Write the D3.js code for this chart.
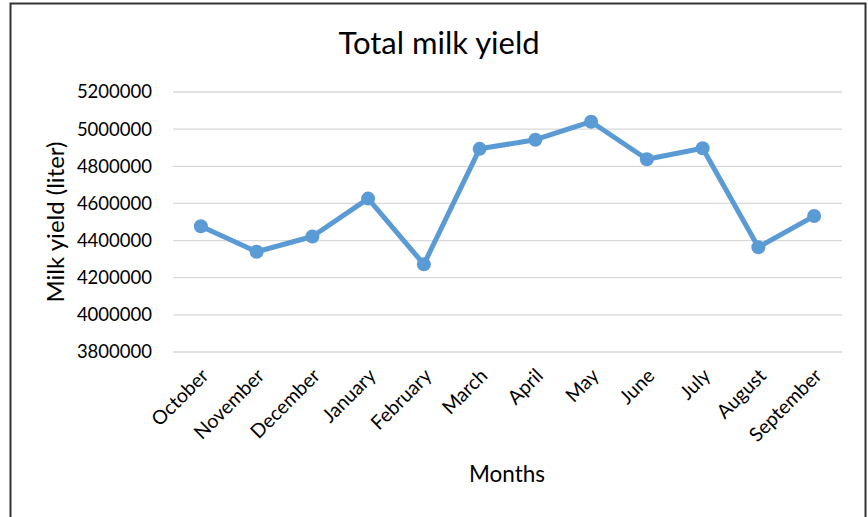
<!DOCTYPE html>
<html>
<head>
<meta charset="utf-8">
<script src="https://cdn.jsdelivr.net/npm/d3@7"></script>
<style>
  html, body { margin: 0; padding: 0; background: #fff; }
  svg { display: block; }
  text { font-family: Lato, "Open Sans", sans-serif; fill: #000; }
</style>
</head>
<body>
<svg id="chart" width="868" height="517"></svg>
<script>
const months = ["October","November","December","January","February","March","April","May","June","July","August","September"];
const milkYield = [4477000, 4340000, 4422000, 4626000, 4272000, 4894000, 4943000, 5040000, 4838000, 4897000, 4364000, 4532000];
const yTicks = [3800000, 4000000, 4200000, 4400000, 4600000, 4800000, 5000000, 5200000];
const titleText = "Total milk yield";
const xTitle = "Months";
const yTitle = "Milk yield (liter)";

const svg = d3.select("#chart");
const plot = { left: 173, right: 842, top: 92, bottom: 352 };

// outer border
svg.append("rect")
  .attr("x", 10.5).attr("y", 3.5)
  .attr("width", 855).attr("height", 520)
  .attr("fill", "#fff").attr("stroke", "#333").attr("stroke-width", 2);

const x = d3.scaleBand().domain(months).range([plot.left, plot.right]);
const y = d3.scaleLinear().domain([3800000, 5200000]).range([plot.bottom, plot.top]);

// gridlines
svg.append("g").selectAll("line").data(yTicks).join("line")
  .attr("x1", plot.left).attr("x2", plot.right)
  .attr("y1", d => y(d)).attr("y2", d => y(d))
  .attr("stroke", "#d9d9d9").attr("stroke-width", 1.3);

// y axis labels
const yAxis = d3.axisLeft(y).tickValues(yTicks).tickSize(0).tickPadding(21).tickFormat(d3.format("d"));
const yg = svg.append("g").attr("transform", `translate(${plot.left},0)`).call(yAxis);
yg.select(".domain").remove();
yg.selectAll("text").style("font-family", "Lato, 'Open Sans', sans-serif").style("font-size", "18.5px").attr("fill", "#222");

// x axis labels
const xAxis = d3.axisBottom(x).tickSize(0).tickPadding(0);
const xg = svg.append("g").attr("transform", `translate(0,${plot.bottom})`).call(xAxis);
xg.select(".domain").remove();
xg.selectAll("text")
  .style("font-family", "Lato, 'Open Sans', sans-serif").style("font-size", "19.5px").attr("fill", "#222")
  .attr("text-anchor", "end")
  .attr("dy", null).attr("y", 0)
  .attr("transform", "translate(9,25) rotate(-45)");

// line
const cx = d => x(d) + x.bandwidth() / 2;
const data = months.map((m, i) => ({ m, v: milkYield[i] }));
svg.append("path").datum(data)
  .attr("fill", "none").attr("stroke", "#5B9BD5").attr("stroke-width", 5)
  .attr("stroke-linejoin", "round")
  .attr("d", d3.line().x(d => cx(d.m)).y(d => y(d.v)));
svg.append("g").selectAll("circle").data(data).join("circle")
  .attr("cx", d => cx(d.m)).attr("cy", d => y(d.v)).attr("r", 7)
  .attr("fill", "#5B9BD5");

// titles
svg.append("text").attr("x", 439).attr("y", 54).attr("text-anchor", "middle")
  .style("font-size", "31px").text(titleText);
svg.append("text").attr("x", 507).attr("y", 482).attr("text-anchor", "middle")
  .style("font-size", "22.5px").text(xTitle);
svg.append("text").attr("transform", "translate(64,222) rotate(-90)").attr("text-anchor", "middle")
  .style("font-size", "24px").text(yTitle);
</script>
</body>
</html>
